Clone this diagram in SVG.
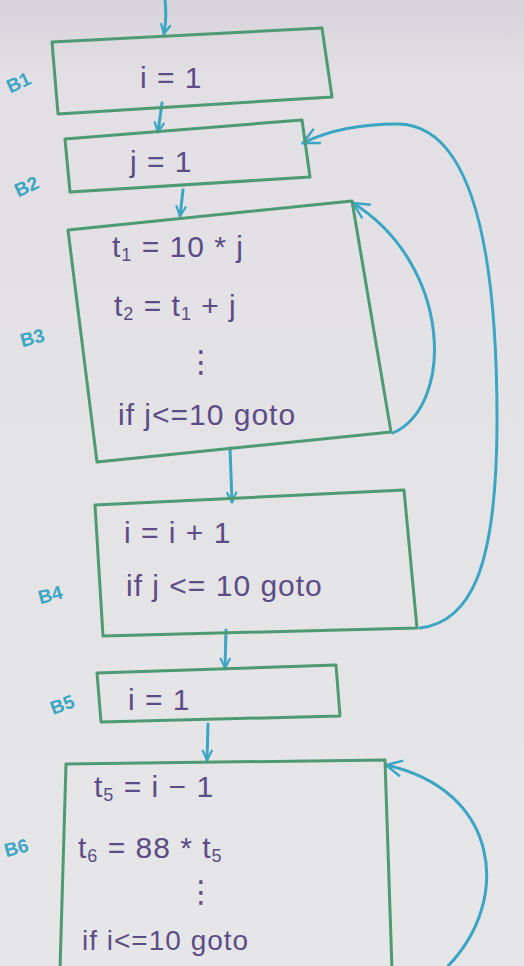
<svg xmlns="http://www.w3.org/2000/svg" width="524" height="966" viewBox="0 0 524 966">
<defs>
<linearGradient id="bg" x1="0" y1="0" x2="0" y2="1">
<stop offset="0" stop-color="#d6d3da"/>
<stop offset="0.08" stop-color="#e2e0e4"/>
<stop offset="1" stop-color="#e6e6e8"/>
</linearGradient>
<marker id="ah" viewBox="0 0 12 12" refX="11" refY="6" markerWidth="12" markerHeight="12" markerUnits="userSpaceOnUse" orient="auto">
<path d="M1,1 L11,6 L1,11" fill="none" stroke="#3aa6c4" stroke-width="2.2"/>
</marker>
<marker id="ahl" viewBox="0 0 20 20" refX="18" refY="10" markerWidth="20" markerHeight="20" markerUnits="userSpaceOnUse" orient="auto">
<path d="M2,2 L18,10 L2,18" fill="none" stroke="#3aa6c4" stroke-width="2.4"/>
</marker>
</defs>
<style>
.box{fill:none;stroke:#4e9a72;stroke-width:3;stroke-linejoin:round}
.t{font-family:"Liberation Sans","DejaVu Sans",sans-serif;fill:#5b4d86;font-size:30px;letter-spacing:1px;white-space:pre}
.s{font-size:18px}
.lbl{font-family:"Liberation Sans","DejaVu Sans",sans-serif;fill:#3aa6c4;font-size:19px;font-weight:bold}
.c{fill:none;stroke:#3aa6c4;stroke-width:3;stroke-linecap:round}
</style>
<rect width="524" height="966" fill="url(#bg)"/>

<g id="connectors">
<path class="c" d="M165,0 Q167,18 164,34" marker-end="url(#ah)"/>
<path class="c" d="M162,103 L158,132" marker-end="url(#ah)"/>
<path class="c" d="M183,190 L180,216" marker-end="url(#ah)"/>
<path class="c" d="M230,448 L232,502" marker-end="url(#ah)"/>
<path class="c" d="M226,630 L225,668" marker-end="url(#ah)"/>
<path class="c" d="M208,724 L207,760" marker-end="url(#ah)"/>
<path class="c" d="M393,433 C455,405 452,265 353,203" marker-end="url(#ahl)"/>
<path class="c" d="M420,628 C470,622 497,570 497,420 C497,260 475,125 398,124 C355,124 325,132 303,143" marker-end="url(#ahl)"/>
<path class="c" d="M448,966 C512,900 500,790 386,765" marker-end="url(#ahl)"/>
</g>

<g id="B1">
<polygon class="box" points="52,42 322,28 332,97 58,114"/>
<text class="t" x="140" y="88">i = 1</text>
<text class="lbl" x="6" y="90" transform="rotate(-25 16 82)">B1</text>
</g>

<g id="B2">
<polygon class="box" points="65,139 302,120 310,177 70,192"/>
<text class="t" x="130" y="172">j = 1</text>
<text class="lbl" x="14" y="194" transform="rotate(-25 24 186)">B2</text>
</g>

<g id="B3">
<polygon class="box" points="68,230 352,201 391,432 97,462"/>
<text class="t" x="112" y="257">t<tspan class="s" dy="4">1</tspan><tspan dy="-4"> = 10 * j</tspan></text>
<text class="t" x="114" y="316">t<tspan class="s" dy="4">2</tspan><tspan dy="-4"> = t</tspan><tspan class="s" dy="4">1</tspan><tspan dy="-4"> + j</tspan></text>
<text class="t" x="186" y="372">⋮</text>
<text class="t" x="118" y="425">if j&lt;=10 goto</text>
<text class="lbl" x="20" y="345" transform="rotate(-15 30 338)">B3</text>
</g>

<g id="B4">
<polygon class="box" points="95,505 404,490 417,628 103,636"/>
<text class="t" x="124" y="543">i = i + 1</text>
<text class="t" x="126" y="596">if j &lt;= 10 goto</text>
<text class="lbl" x="38" y="602" transform="rotate(-15 48 595)">B4</text>
</g>

<g id="B5">
<polygon class="box" points="97,673 336,665 340,716 101,722"/>
<text class="t" x="128" y="710">i = 1</text>
<text class="lbl" x="50" y="712" transform="rotate(-20 60 705)">B5</text>
</g>

<g id="B6">
<polygon class="box" points="66,764 385,760 392,970 60,970"/>
<text class="t" x="94" y="797">t<tspan class="s" dy="4">5</tspan><tspan dy="-4"> = i − 1</tspan></text>
<text class="t" x="78" y="858">t<tspan class="s" dy="4">6</tspan><tspan dy="-4"> = 88 * t</tspan><tspan class="s" dy="4">5</tspan></text>
<text class="t" x="186" y="902">⋮</text>
<text class="t" x="82" y="950" style="font-size:28px">if i&lt;=10 goto</text>
<text class="lbl" x="4" y="855" transform="rotate(-15 14 848)">B6</text>
</g>
</svg>
